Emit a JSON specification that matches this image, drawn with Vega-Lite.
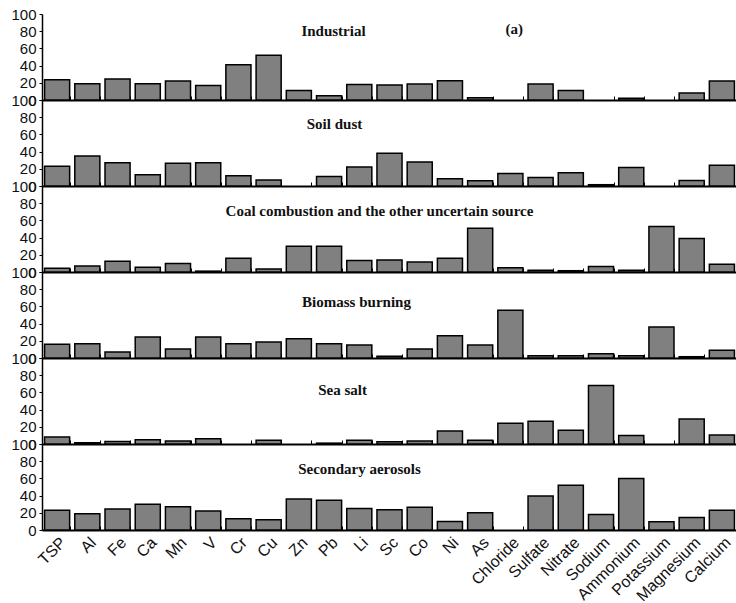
{
  "$schema": "https://vega.github.io/schema/vega-lite/v6.json",
  "padding": {"left": 10, "top": 7, "right": 0, "bottom": 0},
  "background": "white",
  "spacing": 0,
  "bounds": "flush",
  "datasets": {
    "d": [
      {"source":"Industrial","species":"TSP","value":23.5},{"source":"Industrial","species":"Al","value":19},{"source":"Industrial","species":"Fe","value":24.5},{"source":"Industrial","species":"Ca","value":19},{"source":"Industrial","species":"Mn","value":22},{"source":"Industrial","species":"V","value":17},{"source":"Industrial","species":"Cr","value":41},{"source":"Industrial","species":"Cu","value":52},{"source":"Industrial","species":"Zn","value":11},{"source":"Industrial","species":"Pb","value":5},{"source":"Industrial","species":"Li","value":18},{"source":"Industrial","species":"Sc","value":17.5},{"source":"Industrial","species":"Co","value":18.5},{"source":"Industrial","species":"Ni","value":22.5},{"source":"Industrial","species":"As","value":2.5},{"source":"Industrial","species":"Chloride","value":0},{"source":"Industrial","species":"Sulfate","value":18.5},{"source":"Industrial","species":"Nitrate","value":11},{"source":"Industrial","species":"Sodium","value":0},{"source":"Industrial","species":"Ammonium","value":2},{"source":"Industrial","species":"Potassium","value":0},{"source":"Industrial","species":"Magnesium","value":8},{"source":"Industrial","species":"Calcium","value":22},
      {"source":"Soil dust","species":"TSP","value":23},{"source":"Soil dust","species":"Al","value":35},{"source":"Soil dust","species":"Fe","value":27},{"source":"Soil dust","species":"Ca","value":13},{"source":"Soil dust","species":"Mn","value":26.5},{"source":"Soil dust","species":"V","value":27},{"source":"Soil dust","species":"Cr","value":12},{"source":"Soil dust","species":"Cu","value":7},{"source":"Soil dust","species":"Zn","value":0},{"source":"Soil dust","species":"Pb","value":11},{"source":"Soil dust","species":"Li","value":22},{"source":"Soil dust","species":"Sc","value":38},{"source":"Soil dust","species":"Co","value":28},{"source":"Soil dust","species":"Ni","value":8.5},{"source":"Soil dust","species":"As","value":6},{"source":"Soil dust","species":"Chloride","value":14.5},{"source":"Soil dust","species":"Sulfate","value":10},{"source":"Soil dust","species":"Nitrate","value":15.5},{"source":"Soil dust","species":"Sodium","value":1.5},{"source":"Soil dust","species":"Ammonium","value":21.5},{"source":"Soil dust","species":"Potassium","value":0},{"source":"Soil dust","species":"Magnesium","value":6.5},{"source":"Soil dust","species":"Calcium","value":24},
      {"source":"Coal","species":"TSP","value":4.5},{"source":"Coal","species":"Al","value":7},{"source":"Coal","species":"Fe","value":12.5},{"source":"Coal","species":"Ca","value":5.5},{"source":"Coal","species":"Mn","value":10},{"source":"Coal","species":"V","value":1},{"source":"Coal","species":"Cr","value":16},{"source":"Coal","species":"Cu","value":3.5},{"source":"Coal","species":"Zn","value":30},{"source":"Coal","species":"Pb","value":30},{"source":"Coal","species":"Li","value":13.5},{"source":"Coal","species":"Sc","value":14},{"source":"Coal","species":"Co","value":11.5},{"source":"Coal","species":"Ni","value":16},{"source":"Coal","species":"As","value":51},{"source":"Coal","species":"Chloride","value":5},{"source":"Coal","species":"Sulfate","value":2},{"source":"Coal","species":"Nitrate","value":1.5},{"source":"Coal","species":"Sodium","value":6.5},{"source":"Coal","species":"Ammonium","value":2},{"source":"Coal","species":"Potassium","value":53},{"source":"Coal","species":"Magnesium","value":39},{"source":"Coal","species":"Calcium","value":9},
      {"source":"Biomass","species":"TSP","value":16},{"source":"Biomass","species":"Al","value":16.5},{"source":"Biomass","species":"Fe","value":7},{"source":"Biomass","species":"Ca","value":24.5},{"source":"Biomass","species":"Mn","value":10.5},{"source":"Biomass","species":"V","value":24.5},{"source":"Biomass","species":"Cr","value":16.5},{"source":"Biomass","species":"Cu","value":18.5},{"source":"Biomass","species":"Zn","value":22.5},{"source":"Biomass","species":"Pb","value":16.5},{"source":"Biomass","species":"Li","value":15},{"source":"Biomass","species":"Sc","value":2},{"source":"Biomass","species":"Co","value":10.5},{"source":"Biomass","species":"Ni","value":26},{"source":"Biomass","species":"As","value":15},{"source":"Biomass","species":"Chloride","value":55.5},{"source":"Biomass","species":"Sulfate","value":2.5},{"source":"Biomass","species":"Nitrate","value":2.5},{"source":"Biomass","species":"Sodium","value":5},{"source":"Biomass","species":"Ammonium","value":2.5},{"source":"Biomass","species":"Potassium","value":36},{"source":"Biomass","species":"Magnesium","value":1.5},{"source":"Biomass","species":"Calcium","value":9},
      {"source":"Sea salt","species":"TSP","value":8},{"source":"Sea salt","species":"Al","value":1.5},{"source":"Sea salt","species":"Fe","value":3},{"source":"Sea salt","species":"Ca","value":5},{"source":"Sea salt","species":"Mn","value":3.5},{"source":"Sea salt","species":"V","value":6},{"source":"Sea salt","species":"Cr","value":0},{"source":"Sea salt","species":"Cu","value":4.5},{"source":"Sea salt","species":"Zn","value":0},{"source":"Sea salt","species":"Pb","value":1},{"source":"Sea salt","species":"Li","value":4.5},{"source":"Sea salt","species":"Sc","value":2.5},{"source":"Sea salt","species":"Co","value":3.5},{"source":"Sea salt","species":"Ni","value":15},{"source":"Sea salt","species":"As","value":4.5},{"source":"Sea salt","species":"Chloride","value":24},{"source":"Sea salt","species":"Sulfate","value":26.5},{"source":"Sea salt","species":"Nitrate","value":16},{"source":"Sea salt","species":"Sodium","value":68},{"source":"Sea salt","species":"Ammonium","value":10},{"source":"Sea salt","species":"Potassium","value":0},{"source":"Sea salt","species":"Magnesium","value":29},{"source":"Sea salt","species":"Calcium","value":10.5},
      {"source":"Secondary","species":"TSP","value":23},{"source":"Secondary","species":"Al","value":19},{"source":"Secondary","species":"Fe","value":24.5},{"source":"Secondary","species":"Ca","value":30},{"source":"Secondary","species":"Mn","value":27},{"source":"Secondary","species":"V","value":22},{"source":"Secondary","species":"Cr","value":13},{"source":"Secondary","species":"Cu","value":12},{"source":"Secondary","species":"Zn","value":36},{"source":"Secondary","species":"Pb","value":34.5},{"source":"Secondary","species":"Li","value":25},{"source":"Secondary","species":"Sc","value":23.5},{"source":"Secondary","species":"Co","value":26.5},{"source":"Secondary","species":"Ni","value":10},{"source":"Secondary","species":"As","value":20},{"source":"Secondary","species":"Chloride","value":0},{"source":"Secondary","species":"Sulfate","value":39.5},{"source":"Secondary","species":"Nitrate","value":52},{"source":"Secondary","species":"Sodium","value":18},{"source":"Secondary","species":"Ammonium","value":60},{"source":"Secondary","species":"Potassium","value":9.5},{"source":"Secondary","species":"Magnesium","value":14.5},{"source":"Secondary","species":"Calcium","value":23}
    ]
  },
  "vconcat": [
    {
      "width": 695, "height": 86,
      "title": {"text": "Industrial", "dx": -56, "offset": -32},
      "layer": [
        {
          "data": {"name": "d"},
          "transform": [{"filter": "datum.source === 'Industrial'"}],
          "mark": {"type": "bar", "fill": "#808080", "stroke": "#000", "strokeWidth": 1.5},
          "encoding": {
            "x": {"field": "species", "type": "nominal", "sort": null, "scale": {"paddingInner": 0.17, "paddingOuter": 0.085}, "axis": {"title": null, "labels": false, "tickBand": "extent", "tickSize": -4, "domainWidth": 2}},
            "y": {"field": "value", "type": "quantitative", "scale": {"domain": [0, 100]}, "axis": {"values": [0, 20, 40, 60, 80, 100], "title": null, "labelOverlap": false}},
            "strokeOpacity": {"condition": {"test": "datum.value === 0", "value": 0}, "value": 1}
          }
        },
        {
          "data": {"values": [{"label": "(a)"}]},
          "mark": {"type": "text", "font": "Liberation Serif", "fontWeight": "bold", "fontSize": 15, "color": "#111", "dx": 4},
          "encoding": {
            "x": {"datum": "Chloride", "type": "nominal"},
            "y": {"datum": 82, "type": "quantitative", "axis": {"values": [0, 20, 40, 60, 80, 100], "title": null, "labelOverlap": false}},
            "text": {"field": "label"}
          }
        }
      ]
    },
    {
      "width": 695, "height": 86,
      "title": {"text": "Soil dust", "dx": -55, "offset": -39},
      "data": {"name": "d"},
      "transform": [{"filter": "datum.source === 'Soil dust'"}],
      "mark": {"type": "bar", "fill": "#808080", "stroke": "#000", "strokeWidth": 1.5},
      "encoding": {
        "x": {"field": "species", "type": "nominal", "sort": null, "scale": {"paddingInner": 0.17, "paddingOuter": 0.085}, "axis": {"title": null, "labels": false, "tickBand": "extent", "tickSize": -4, "domainWidth": 2}},
        "y": {"field": "value", "type": "quantitative", "scale": {"domain": [0, 100]}, "axis": {"values": [0, 20, 40, 60, 80, 100], "title": null}},
        "strokeOpacity": {"condition": {"test": "datum.value === 0", "value": 0}, "value": 1}
      }
    },
    {
      "width": 695, "height": 86,
      "title": {"text": "Coal combustion and the other uncertain source", "dx": -10, "offset": -40},
      "data": {"name": "d"},
      "transform": [{"filter": "datum.source === 'Coal'"}],
      "mark": {"type": "bar", "fill": "#808080", "stroke": "#000", "strokeWidth": 1.5},
      "encoding": {
        "x": {"field": "species", "type": "nominal", "sort": null, "scale": {"paddingInner": 0.17, "paddingOuter": 0.085}, "axis": {"title": null, "labels": false, "tickBand": "extent", "tickSize": -4, "domainWidth": 2}},
        "y": {"field": "value", "type": "quantitative", "scale": {"domain": [0, 100]}, "axis": {"values": [0, 20, 40, 60, 80, 100], "title": null}},
        "strokeOpacity": {"condition": {"test": "datum.value === 0", "value": 0}, "value": 1}
      }
    },
    {
      "width": 695, "height": 86,
      "title": {"text": "Biomass burning", "dx": -33, "offset": -45},
      "data": {"name": "d"},
      "transform": [{"filter": "datum.source === 'Biomass'"}],
      "mark": {"type": "bar", "fill": "#808080", "stroke": "#000", "strokeWidth": 1.5},
      "encoding": {
        "x": {"field": "species", "type": "nominal", "sort": null, "scale": {"paddingInner": 0.17, "paddingOuter": 0.085}, "axis": {"title": null, "labels": false, "tickBand": "extent", "tickSize": -4, "domainWidth": 2}},
        "y": {"field": "value", "type": "quantitative", "scale": {"domain": [0, 100]}, "axis": {"values": [0, 20, 40, 60, 80, 100], "title": null}},
        "strokeOpacity": {"condition": {"test": "datum.value === 0", "value": 0}, "value": 1}
      }
    },
    {
      "width": 695, "height": 86,
      "title": {"text": "Sea salt", "dx": -47, "offset": -47},
      "data": {"name": "d"},
      "transform": [{"filter": "datum.source === 'Sea salt'"}],
      "mark": {"type": "bar", "fill": "#808080", "stroke": "#000", "strokeWidth": 1.5},
      "encoding": {
        "x": {"field": "species", "type": "nominal", "sort": null, "scale": {"paddingInner": 0.17, "paddingOuter": 0.085}, "axis": {"title": null, "labels": false, "tickBand": "extent", "tickSize": -4, "domainWidth": 2}},
        "y": {"field": "value", "type": "quantitative", "scale": {"domain": [0, 100]}, "axis": {"values": [0, 20, 40, 60, 80, 100], "title": null}},
        "strokeOpacity": {"condition": {"test": "datum.value === 0", "value": 0}, "value": 1}
      }
    },
    {
      "width": 695, "height": 86,
      "title": {"text": "Secondary aerosols", "dx": -30, "offset": -40},
      "data": {"name": "d"},
      "transform": [{"filter": "datum.source === 'Secondary'"}],
      "mark": {"type": "bar", "fill": "#808080", "stroke": "#000", "strokeWidth": 1.5},
      "encoding": {
        "x": {"field": "species", "type": "nominal", "sort": null, "scale": {"paddingInner": 0.17, "paddingOuter": 0.085}, "axis": {"title": null, "labels": true, "labelAngle": -45, "labelPadding": 8, "labelFontSize": 16, "tickBand": "extent", "tickSize": -4, "domainWidth": 2}},
        "y": {"field": "value", "type": "quantitative", "scale": {"domain": [0, 100]}, "axis": {"values": [0, 20, 40, 60, 80, 100], "title": null}},
        "strokeOpacity": {"condition": {"test": "datum.value === 0", "value": 0}, "value": 1}
      }
    }
  ],
  "config": {
    "view": {"stroke": null},
    "axis": {"labelFont": "Liberation Sans", "labelFontSize": 15, "labelColor": "#111", "domainColor": "#000", "tickColor": "#000", "grid": false, "labelOverlap": false},
    "axisY": {"tickSize": 3, "labelPadding": 3, "domainWidth": 1.5},
    "title": {"frame": "group", "baseline": "middle", "anchor": "middle", "font": "Liberation Serif", "fontWeight": "bold", "fontSize": 15, "color": "#111"}
  }
}
